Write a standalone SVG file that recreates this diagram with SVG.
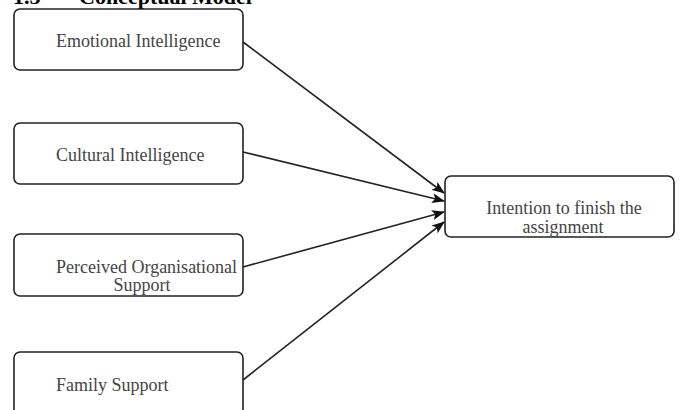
<svg xmlns="http://www.w3.org/2000/svg" width="680" height="410" viewBox="0 0 680 410">
<style>
.box{fill:#fff;stroke:#222;stroke-width:1.6}
.lbl{font-family:"Liberation Serif","Times New Roman",serif;font-size:18px;fill:#444}
.title{font-family:"Liberation Serif","Times New Roman",serif;font-size:22px;font-weight:bold;fill:#000}
.edge{stroke:#222;stroke-width:1.6;fill:none;marker-end:url(#arr)}
</style>
<defs>
<marker id="arr" viewBox="0 0 13 10" refX="12" refY="5" markerWidth="13" markerHeight="10" markerUnits="userSpaceOnUse" orient="auto">
<path d="M0,0 L13,5 L0,10 L3,5 Z" fill="#111"/>
</marker>
</defs>
<rect width="680" height="410" fill="#fff"/>
<text class="title" x="13" y="4">1.3</text>
<text class="title" x="79" y="4">Conceptual Model</text>
<g id="edges">
<line class="edge" x1="243" y1="42" x2="444" y2="193"/>
<line class="edge" x1="243" y1="152" x2="444" y2="201"/>
<line class="edge" x1="243" y1="267" x2="444" y2="212"/>
<line class="edge" x1="243" y1="380" x2="444" y2="222"/>
</g>
<g id="emotional">
<rect class="box" x="14" y="9" width="229" height="61" rx="6"/>
<text class="lbl" x="56" y="47">Emotional Intelligence</text>
</g>
<g id="cultural">
<rect class="box" x="14" y="123" width="229" height="61" rx="6"/>
<text class="lbl" x="56" y="161">Cultural Intelligence</text>
</g>
<g id="pos">
<rect class="box" x="14" y="234" width="229" height="62" rx="6"/>
<text class="lbl" x="56" y="273">Perceived Organisational</text>
<text class="lbl" x="142" y="291" text-anchor="middle">Support</text>
</g>
<g id="family">
<rect class="box" x="14" y="352" width="229" height="64" rx="6"/>
<text class="lbl" x="56" y="391">Family Support</text>
</g>
<g id="intention">
<rect class="box" x="445" y="176" width="229" height="61" rx="6"/>
<text class="lbl" x="564" y="214" text-anchor="middle">Intention to finish the</text>
<text class="lbl" x="563" y="233" text-anchor="middle">assignment</text>
</g>
</svg>
